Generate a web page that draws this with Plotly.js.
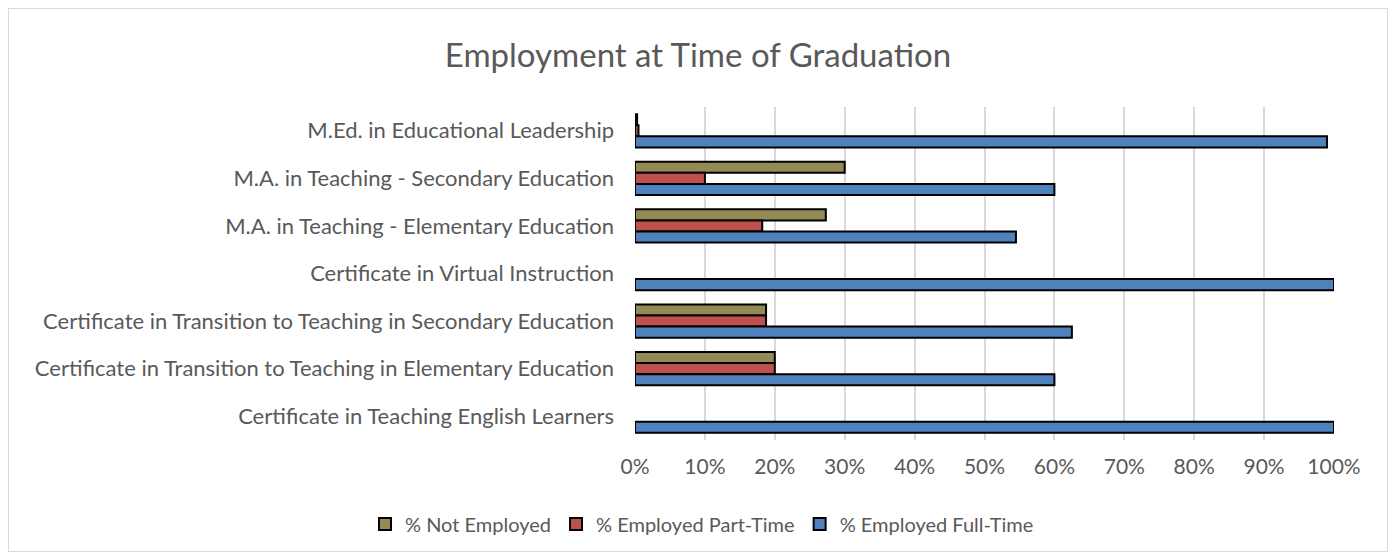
<!DOCTYPE html>
<html><head><meta charset="utf-8">
<script src="https://cdn.plot.ly/plotly-3.0.1.min.js"></script>
<style>
html,body{margin:0;padding:0;background:#fff;}
#wrap{position:relative;width:1396px;height:560px;}
#frame{position:absolute;left:8px;top:8px;width:1378px;height:542px;border:1px solid #d9d9d9;pointer-events:none;}
#chart{position:absolute;left:0;top:0;width:1396px;height:560px;}
</style></head>
<body><div id="wrap"><div id="chart"></div><div id="frame"></div></div>
<script>
const categories = [
  "M.Ed. in Educational Leadership",
  "M.A. in Teaching - Secondary Education",
  "M.A. in Teaching - Elementary Education",
  "Certificate in Virtual Instruction",
  "Certificate in Transition to Teaching in Secondary Education",
  "Certificate in Transition to Teaching in Elementary Education",
  "Certificate in Teaching English Learners"
];
const notEmployed = [0.003, 0.30, 0.273, 0, 0.1875, 0.20, 0];
const partTime    = [0.005, 0.10, 0.182, 0, 0.1875, 0.20, 0];
const fullTime    = [0.99, 0.60, 0.545, 1.00, 0.625, 0.60, 1.00];
const seriesNames = ["% Not Employed", "% Employed Part-Time", "% Employed Full-Time"];
const xTickVals = [0,0.1,0.2,0.3,0.4,0.5,0.6,0.7,0.8,0.9,1.0];
const xTickText = ["0%","10%","20%","30%","40%","50%","60%","70%","80%","90%","100%"];

const colors = ["#948A54", "#C0504D", "#4F81BD"];
const FONT = "Lato, 'Open Sans', sans-serif";
const series = [notEmployed, partTime, fullTime];
const traces = series.map((vals, i) => ({
  type: "bar",
  orientation: "h",
  name: seriesNames[i],
  y: categories,
  x: vals,
  marker: {color: colors[i], line: {color: "#000000", width: vals.map(v => v > 0 ? 2 : 0)}},
  hoverinfo: "x+y+name"
}));

const layout = {
  width: 1396, height: 560,
  paper_bgcolor: "#ffffff", plot_bgcolor: "#ffffff",
  margin: {l: 635, r: 62, t: 107, b: 120},
  barmode: "group",
  bargap: 0.3,
  bargroupgap: 0,
  title: {text: "Employment at Time of Graduation", font: {family: FONT, size: 33, color: "#595959"},
          x: 698/1396, xref: "container", xanchor: "center", y: 1 - 55/560, yref: "container", yanchor: "middle"},
  xaxis: {
    range: [0, 1.0], tickvals: xTickVals, ticktext: xTickText,
    showgrid: true, gridcolor: "#d9d9d9", gridwidth: 2,
    zeroline: false, showline: false, ticks: "",
    ticklabelstandoff: 12,
    tickfont: {family: FONT, size: 21, color: "#595959"},
    fixedrange: true
  },
  yaxis: {
    autorange: "reversed", type: "category",
    showgrid: false, zeroline: false, showline: false, ticks: "",
    ticklabelstandoff: 20,
    tickfont: {family: FONT, size: 22, color: "#595959"},
    fixedrange: true
  },
  legend: {
    orientation: "h", xref: "container", yref: "container",
    x: 702/1396, xanchor: "center", y: 1 - 524/560, yanchor: "middle",
    font: {family: FONT, size: 20, color: "#595959"},
    traceorder: "normal", itemwidth: 30
  },
  showlegend: true
};
Plotly.newPlot("chart", traces, layout, {displayModeBar: false, staticPlot: false});
</script>
</body></html>
